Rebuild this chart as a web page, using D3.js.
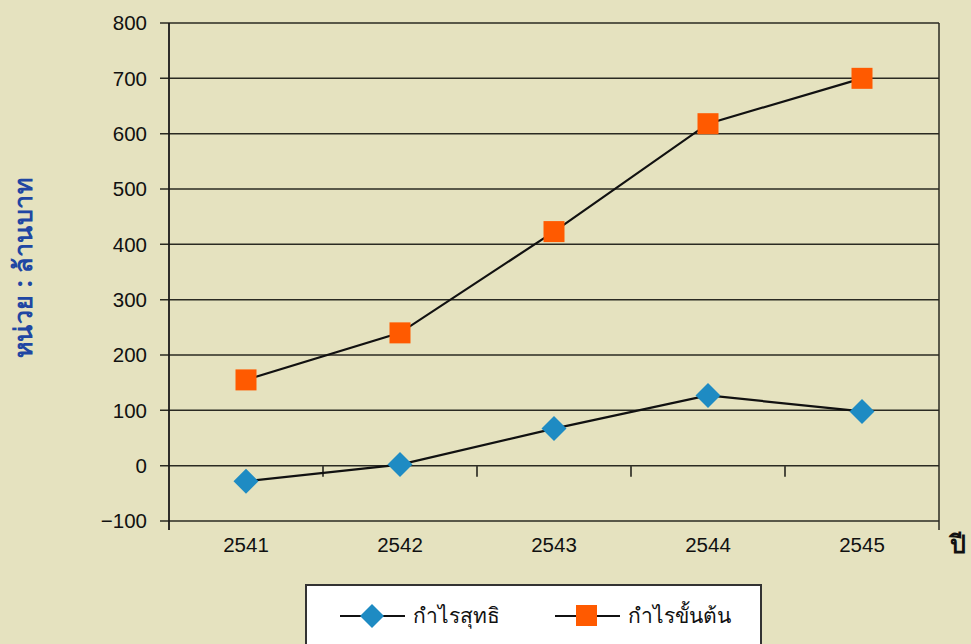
<!DOCTYPE html>
<html><head><meta charset="utf-8">
<script src="https://cdn.jsdelivr.net/npm/d3@7"></script>
<style>body{margin:0;background:#e5e2bf;}svg{display:block;}</style>
</head><body>
<script>
const categories = ["2541","2542","2543","2544","2545"];
const netProfit = [-28, 2, 67, 127, 98];      // กำไรสุทธิ
const grossProfit = [155, 240, 423, 618, 700]; // กำไรขั้นต้น
const yTicks = [-100,0,100,200,300,400,500,600,700,800];
const seriesNames = ["กำไรสุทธิ","กำไรขั้นต้น"];

(function(){
const W = 971, H = 644;
const svg = d3.select("body").append("svg").attr("width",W).attr("height",H);
svg.append("rect").attr("width",W).attr("height",H).attr("fill","#e5e2bf");

const pL=169, pR=939, pT=23, pB=521;
const x = d3.scaleBand().domain(categories).range([pL,pR]);
const y = d3.scaleLinear().domain([-100,800]).range([pB,pT]);

svg.append("g").selectAll("line").data(yTicks).join("line")
  .attr("x1",pL-9).attr("x2",pR).attr("y1",d=>y(d)).attr("y2",d=>y(d))
  .attr("stroke","#2a2a22").attr("stroke-width",1.5);
svg.append("g").selectAll("text").data(yTicks).join("text")
  .attr("x",147).attr("y",d=>y(d)).attr("dy","0.36em").attr("text-anchor","end")
  .attr("font-family","Liberation Sans, Arial, sans-serif").attr("font-size",20.5)
  .attr("fill","#111").text(d=>d<0?"\u2212"+Math.abs(d):d);
svg.append("line").attr("x1",pL).attr("x2",pL).attr("y1",pT).attr("y2",pB+9)
  .attr("stroke","#1a1a1a").attr("stroke-width",1.8);
svg.append("line").attr("x1",pR).attr("x2",pR).attr("y1",pT).attr("y2",pB+9)
  .attr("stroke","#2a2a22").attr("stroke-width",1.5);
const bounds = categories.slice(1).map(c=>x(c));
svg.append("g").selectAll("line").data(bounds).join("line")
  .attr("x1",d=>d).attr("x2",d=>d).attr("y1",y(0)).attr("y2",y(0)+11)
  .attr("stroke","#3a3a30").attr("stroke-width",1.8);
svg.append("g").selectAll("text").data(categories).join("text")
  .attr("x",d=>x(d)+x.bandwidth()/2).attr("y",552).attr("text-anchor","middle")
  .attr("font-family","Liberation Sans, Arial, sans-serif").attr("font-size",20.5)
  .attr("fill","#111").text(d=>d);

const cx = c=>x(c)+x.bandwidth()/2;
const line = d3.line().x((d,i)=>cx(categories[i])).y(d=>y(d));
svg.append("path").datum(grossProfit).attr("d",line).attr("fill","none").attr("stroke","#111").attr("stroke-width",2.2);
svg.append("path").datum(netProfit).attr("d",line).attr("fill","none").attr("stroke","#111").attr("stroke-width",2.2);

const sq=21, dm=12.5;
svg.append("g").selectAll("rect").data(grossProfit).join("rect")
  .attr("x",(d,i)=>cx(categories[i])-sq/2).attr("y",d=>y(d)-sq/2)
  .attr("width",sq).attr("height",sq).attr("fill","#ff5a00");
const diamond = (px,py,r)=>`M${px},${py-r}L${px+r},${py}L${px},${py+r}L${px-r},${py}Z`;
svg.append("g").selectAll("path").data(netProfit).join("path")
  .attr("d",(d,i)=>diamond(cx(categories[i]),y(d),dm)).attr("fill","#1e8bc3");

svg.append("text").attr("transform","translate(32,268) rotate(-90)")
  .attr("text-anchor","middle").attr("font-family","Noto Sans, DejaVu Sans, sans-serif")
  .attr("font-size",25).attr("font-weight","bold").attr("fill","#2046a3")
  .attr("letter-spacing",0.5)
  .text("หน่วย : ล้านบาท");
svg.append("text").attr("x",950).attr("y",553).attr("font-family","Noto Sans, DejaVu Sans, sans-serif")
  .attr("font-size",25).attr("font-weight","bold").attr("fill","#111").text("ปี");

const lg = svg.append("g");
lg.append("rect").attr("x",306).attr("y",585).attr("width",455).attr("height",80)
  .attr("fill","#fff").attr("stroke","#333").attr("stroke-width",2);
const items = [{x0:340,name:seriesNames[0],shape:"d"},{x0:555,name:seriesNames[1],shape:"s"}];
const ly=616;
items.forEach(it=>{
  lg.append("line").attr("x1",it.x0).attr("x2",it.x0+65).attr("y1",ly).attr("y2",ly).attr("stroke","#111").attr("stroke-width",2);
  const mx=it.x0+32;
  if(it.shape==="d") lg.append("path").attr("d",diamond(mx,ly,12)).attr("fill","#1e8bc3");
  else lg.append("rect").attr("x",mx-11).attr("y",ly-11).attr("width",21).attr("height",21).attr("fill","#ff5a00");
  lg.append("text").attr("x",it.x0+73).attr("y",ly).attr("dy","0.35em")
    .attr("font-family","Noto Sans, DejaVu Sans, sans-serif").attr("font-size",21).attr("fill","#111").text(it.name);
});
})();
</script>
</body></html>
